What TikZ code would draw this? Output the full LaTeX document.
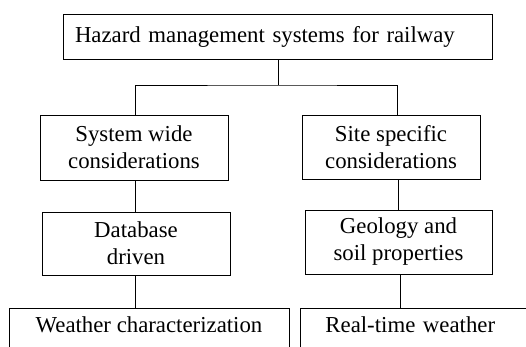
\documentclass[tikz,border=0pt]{standalone}
\usepackage{fontspec}
\setmainfont{Liberation Serif}
\begin{document}
\begin{tikzpicture}[x=1pt,y=-1pt,
  box/.style={draw, line width=0.9pt, align=center, inner sep=0pt,
    font=\fontsize{22.8}{27}\selectfont},
  openbox/.style={box, text height=25pt, text depth=40pt},
  link/.style={draw, line width=0.9pt}]
\useasboundingbox (0,0) rectangle (526,347);
\clip (0,0) rectangle (526,347);

% root
\node[box, minimum width=429pt, minimum height=45pt, text width=405pt, align=left]
  (root) at (277.5,36.5) {Hazard management systems for railway};

% second level
\node[box, minimum width=188pt, minimum height=65pt] (sys) at (134,147.5)
  {System wide\\considerations};
\node[box, minimum width=178pt, minimum height=64pt] (site) at (391,147)
  {Site specific\\considerations};

% third level
\node[box, minimum width=188pt, minimum height=63pt] (db) at (136,243.5)
  {Database\\driven};
\node[box, minimum width=187pt, minimum height=64pt] (geo) at (398.5,242)
  {Geology and\\soil properties};

% bottom level, running past the lower and right edges
\node[openbox, anchor=north, minimum width=280pt] (wx) at (149,307.5)
  {Weather characterization};
\node[openbox, anchor=north west, inner xsep=25pt, text width=220pt, align=left]
  (rt) at (300,307.5) {Real-time weather};

% column positions of the connectors
\coordinate (junc) at (278,85);
\coordinate (lcol) at (135,0);
\coordinate (rcolA) at (397,0);
\coordinate (rcolB) at (398,0);
\coordinate (rcolC) at (400,0);

\draw[link] (root.south -| junc) -- (junc);
\draw[link] (sys.north -| lcol) |- (junc) -| (site.north -| rcolA);
\draw[link] (sys.south -| lcol) -- (db.north -| lcol);
\draw[link] (site.south -| rcolB) -- (geo.north -| rcolB);
\draw[link] (db.south -| lcol) -- (wx.north -| lcol);
\draw[link] (geo.south -| rcolC) -- (rt.north -| rcolC);
\end{tikzpicture}
\end{document}
